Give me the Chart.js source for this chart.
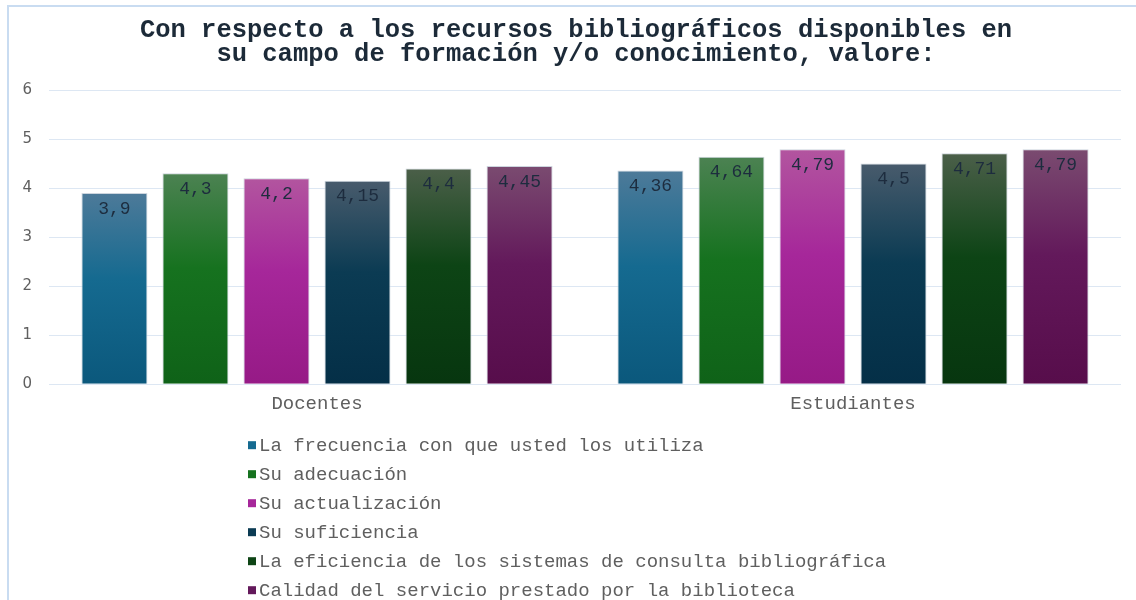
<!DOCTYPE html>
<html>
<head>
<meta charset="utf-8">
<script src="https://cdn.jsdelivr.net/npm/chart.js@4"></script>
<style>
  body { margin: 0; background: #fff; }
  #wrap { position: relative; width: 1136px; height: 600px; }
  #frame { position: absolute; left: 7px; top: 5px; right: 0; bottom: 0;
           border-left: 2px solid #c9dcf1; border-top: 2px solid #c9dcf1; }
  canvas { position: absolute; left: 0; top: 0; }
</style>
</head>
<body>
<div id="wrap">
  <div id="frame"></div>
  <canvas id="barchart" width="1136" height="600"></canvas>
</div>
<script>
const categories = ['Docentes', 'Estudiantes'];
const seriesNames = [
  'La frecuencia con que usted los utiliza',
  'Su adecuación',
  'Su actualización',
  'Su suficiencia',
  'La eficiencia de los sistemas de consulta bibliográfica',
  'Calidad del servicio prestado por la biblioteca'
];
const frecuencia = [3.9, 4.36];
const adecuacion = [4.3, 4.64];
const actualizacion = [4.2, 4.79];
const suficiencia = [4.15, 4.5];
const eficiencia = [4.4, 4.71];
const calidad = [4.45, 4.79];
const yTicks = [0, 1, 2, 3, 4, 5, 6];
const titleLines = ['Con respecto a los recursos bibliográficos disponibles en',
                    'su campo de formación y/o conocimiento, valore:'];

// top / middle / bottom of each bar's gradient
const shades = [
  ['#4d7a99', '#156a90', '#0b587c'],
  ['#4c8252', '#16721f', '#0f6218'],
  ['#b2559f', '#a6279a', '#961a86'],
  ['#485b6c', '#0b3b53', '#042f47'],
  ['#4b5f49', '#0d4415', '#07360f'],
  ['#7a4b70', '#63195b', '#570d4b']
];

const mono = 'Liberation Mono, Courier New, monospace';

function barGradient(c, s) {
  const chart = c.chart;
  if (!chart.chartArea || c.type !== 'data' || !chart.scales.y) return s[1];
  const y = chart.scales.y;
  const top = y.getPixelForValue(c.parsed.y);
  const base = y.getPixelForValue(0);
  const g = chart.ctx.createLinearGradient(0, top, 0, base);
  g.addColorStop(0, s[0]);
  g.addColorStop(0.45, s[1]);
  g.addColorStop(1, s[2]);
  return g;
}

const values = [frecuencia, adecuacion, actualizacion, suficiencia, eficiencia, calidad];
const datasets = values.map((v, i) => ({
  label: seriesNames[i],
  data: v,
  backgroundColor: c => barGradient(c, shades[i]),
  borderColor: '#cdd5de',
  borderWidth: 1,
  categoryPercentage: 0.907,
  barPercentage: 0.815
}));

// title, centred a bit right of the canvas middle like the original
const topTitle = {
  id: 'topTitle',
  afterDraw(chart) {
    const ctx = chart.ctx;
    ctx.save();
    ctx.font = 'bold 25.5px ' + mono;
    ctx.fillStyle = '#1c2a38';
    ctx.textAlign = 'center';
    ctx.textBaseline = 'middle';
    titleLines.forEach((t, i) => ctx.fillText(t, 576, 31 + i * 24));
    ctx.restore();
  }
};

// value labels inside the top of each bar
const valueLabels = {
  id: 'valueLabels',
  afterDatasetsDraw(chart) {
    const ctx = chart.ctx;
    ctx.save();
    ctx.font = '18px ' + mono;
    ctx.fillStyle = '#1d2c3e';
    ctx.textAlign = 'center';
    ctx.textBaseline = 'middle';
    chart.data.datasets.forEach((ds, i) => {
      chart.getDatasetMeta(i).data.forEach((bar, j) => {
        ctx.fillText(String(ds.data[j]).replace('.', ','), bar.x, bar.y + 16);
      });
    });
    ctx.restore();
  }
};

// one legend entry per row, under the axis
const listLegend = {
  id: 'listLegend',
  afterDraw(chart) {
    const ctx = chart.ctx;
    ctx.save();
    ctx.font = '19px ' + mono;
    ctx.textBaseline = 'middle';
    ctx.textAlign = 'left';
    let y = chart.chartArea.bottom + 61;
    chart.data.datasets.forEach((ds, i) => {
      ctx.fillStyle = shades[i][1];
      ctx.fillRect(248, y - 4, 8, 8);
      ctx.fillStyle = '#5f5f5f';
      ctx.fillText(ds.label, 259, y + 1);
      y += 29;
    });
    ctx.restore();
  }
};

const ctx = document.getElementById('barchart').getContext('2d');
let barchart = new Chart(ctx, {
  type: 'bar',
  data: { labels: categories, datasets: datasets },
  options: {
    responsive: false,
    animation: false,
    layout: { padding: { left: 10, right: 15, top: 90, bottom: 185 } },
    plugins: {
      legend: { display: false },
      tooltip: { enabled: false },
      title: { display: false }
    },
    scales: {
      x: {
        grid: { display: false },
        border: { display: false },
        ticks: { color: '#5f5f5f', font: { family: mono, size: 19 }, padding: 0 }
      },
      y: {
        min: 0,
        max: 6,
        afterFit(s) { s.width = 39; },
        afterBuildTicks(s) { s.ticks = yTicks.map(v => ({ value: v })); },
        grid: { color: '#dde7f3', lineWidth: 1, drawTicks: false },
        border: { display: false },
        ticks: { color: '#5f5f5f', font: { family: 'DejaVu Sans', size: 15 }, padding: 17 }
      }
    }
  },
  plugins: [topTitle, valueLabels, listLegend]
});
</script>
</body>
</html>
